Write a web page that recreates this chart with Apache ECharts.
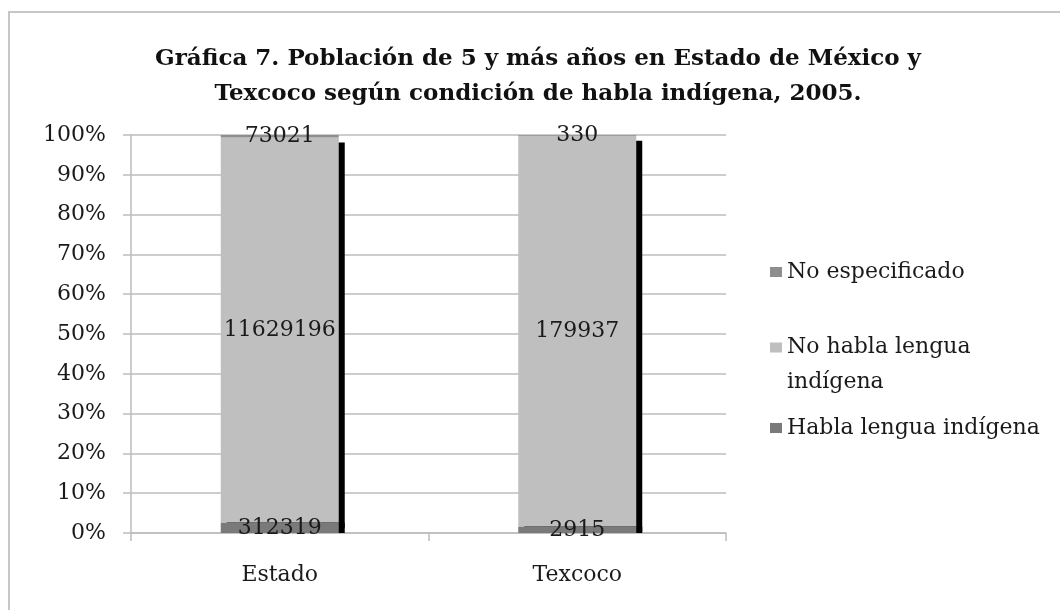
<!DOCTYPE html>
<html>
<head>
<meta charset="utf-8">
<script src="https://cdn.jsdelivr.net/npm/echarts@6/dist/echarts.min.js"></script>
<style>
  html, body { margin: 0; padding: 0; background: #fff; }
  #chart { width: 1060px; height: 610px; }
</style>
</head>
<body>
<div id="chart"></div>
<script>
const categories = ['Estado', 'Texcoco'];
const hablaLengua = [312319, 2915];
const noHablaLengua = [11629196, 179937];
const noEspecificado = [73021, 330];
const seriesNames = ['Habla lengua indígena', 'No habla lengua indígena', 'No especificado'];
const yTickFormat = '{value}%';

const FONT = 'DejaVu Serif';
const totals = categories.map((c, i) => hablaLengua[i] + noHablaLengua[i] + noEspecificado[i]);
const toPct = arr => arr.map((v, i) => ({ value: v / totals[i] * 100, raw: v }));

const labelCfg = {
  show: true,
  position: 'inside',
  formatter: p => String(p.data.raw),
  color: '#1a1a1a',
  fontFamily: FONT,
  fontSize: 22
};

const chart = echarts.init(document.getElementById('chart'), null, { renderer: 'canvas' });
chart.setOption({
  animation: false,
  backgroundColor: '#fff',
  graphic: [{
    type: 'rect',
    shape: { x: 9, y: 12, width: 1100, height: 700 },
    style: { fill: 'none', stroke: '#c6c6c6', lineWidth: 2 },
    silent: true
  }],
  title: {
    text: 'Gráfica 7. Población de 5 y más años en Estado de México y\nTexcoco según condición de habla indígena, 2005.',
    left: 533,
    top: 37,
    textAlign: 'center',
    textStyle: { fontFamily: FONT, fontWeight: 'bold', fontSize: 23, lineHeight: 35, color: '#111' }
  },
  legend: [
    {
      data: [seriesNames[2]], orient: 'vertical', left: 770, top: 259, padding: 0,
      icon: 'rect', itemWidth: 12, itemHeight: 10,
      textStyle: { fontFamily: FONT, fontSize: 22, lineHeight: 26, color: '#1a1a1a' }
    },
    {
      data: [seriesNames[1]], orient: 'vertical', left: 770, top: 295, padding: 0,
      icon: 'rect', itemWidth: 12, itemHeight: 10,
      formatter: () => '\nNo habla lengua\nindígena',
      textStyle: { fontFamily: FONT, fontSize: 22, lineHeight: 35, color: '#1a1a1a' }
    },
    {
      data: [seriesNames[0]], orient: 'vertical', left: 770, top: 415, padding: 0,
      icon: 'rect', itemWidth: 12, itemHeight: 10,
      textStyle: { fontFamily: FONT, fontSize: 22, lineHeight: 26, color: '#1a1a1a' }
    }
  ],
  grid: { left: 131, right: 334, top: 135, bottom: 77, containLabel: false },
  xAxis: {
    type: 'category',
    data: categories,
    axisLine: { lineStyle: { color: '#bdbdbd', width: 1.5 } },
    axisTick: { show: true, length: 8, lineStyle: { color: '#bdbdbd', width: 1.5 } },
    axisLabel: { fontFamily: FONT, fontSize: 22, color: '#1a1a1a', margin: 31 }
  },
  yAxis: {
    type: 'value',
    min: 0, max: 100, interval: 10,
    axisLine: { show: true, lineStyle: { color: '#bdbdbd', width: 1.5 } },
    axisTick: { show: true, length: 8, lineStyle: { color: '#bdbdbd', width: 1.5 } },
    splitLine: { show: true, lineStyle: { color: '#bdbdbd', width: 1.5 } },
    axisLabel: { formatter: yTickFormat, fontFamily: FONT, fontSize: 22, color: '#1a1a1a', margin: 25 }
  },
  series: [
    {
      name: seriesNames[0], type: 'bar', stack: 'total', barWidth: 118, z: 4,
      data: toPct(hablaLengua),
      itemStyle: { color: '#7a7a7a', shadowColor: '#000', shadowBlur: 0, shadowOffsetX: 6, shadowOffsetY: 0 },
      label: labelCfg
    },
    {
      name: seriesNames[1], type: 'bar', stack: 'total', barWidth: 118, z: 2,
      data: toPct(noHablaLengua),
      itemStyle: { color: '#bfbfbf', shadowColor: '#000', shadowBlur: 0, shadowOffsetX: 6, shadowOffsetY: 5 },
      label: labelCfg
    },
    {
      name: seriesNames[2], type: 'bar', stack: 'total', barWidth: 118, z: 3,
      data: toPct(noEspecificado),
      itemStyle: { color: '#8e8e8e' },
      label: labelCfg
    }
  ]
});
</script>
</body>
</html>
